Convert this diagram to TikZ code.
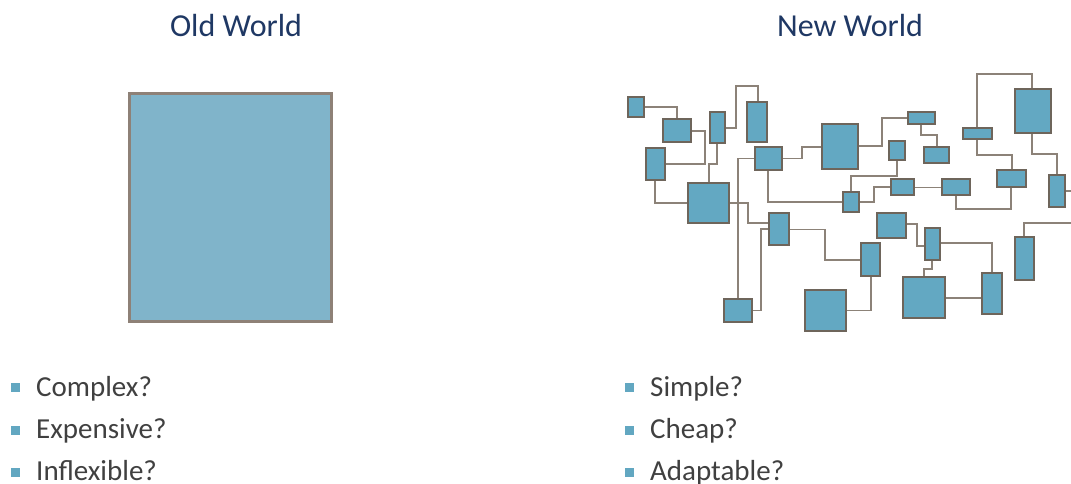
\documentclass[tikz,border=0pt]{standalone}
\usepackage{fontspec}
\setmainfont{Carlito}
\definecolor{boxfill}{HTML}{63A8C2}
\definecolor{boxline}{HTML}{6E655B}
\definecolor{wire}{HTML}{8C8278}
\definecolor{oldfill}{HTML}{80B4CA}
\definecolor{oldline}{HTML}{8E8177}
\definecolor{titlecol}{HTML}{1F3864}
\definecolor{textcol}{HTML}{404040}
\definecolor{bulletcol}{HTML}{62A7C1}
\newcommand\bx[5]{\node[netbox, minimum width={(#4)-(#2)}, minimum height={(#5)-(#3)}] (#1) at ({((#2)+(#4))/2},{((#3)+(#5))/2}) {};}
\tikzset{
  netbox/.style={draw=boxline, fill=boxfill, line width=1.5pt, inner sep=0pt, outer sep=0pt},
  wireline/.style={draw=wire, line width=1.4pt},
  titletext/.style={anchor=base, text=titlecol, font=\fontsize{32}{37}\selectfont, inner sep=0pt},
  itemtext/.style={anchor=base west, text=textcol, font=\fontsize{29}{33}\selectfont, inner sep=0pt},
  bulletsq/.style={fill=bulletcol, minimum width=9pt, minimum height=9pt, inner sep=0pt}
}
\begin{document}
\begin{tikzpicture}[x=1pt,y=-1pt]
\useasboundingbox (0,0) rectangle (1071,483);
% titles
\node[titletext] (t1) at (236,36) {Old World};
\node[titletext] (t2) at (850,36) {New World};
% old world box
\node[draw=oldline, fill=oldfill, line width=3pt, minimum width=202pt, minimum height=228pt, inner sep=0pt] (old) at (230.5,207.5) {};
% bullets left
\node[bulletsq] (b1) at (15.5,387) {};
\node[bulletsq] (b2) at (15.5,430) {};
\node[bulletsq] (b3) at (15.5,472) {};
\node[itemtext] (l1) at (36,396) {Complex?};
\node[itemtext] (l2) at (36,438.5) {Expensive?};
\node[itemtext] (l3) at (36,480) {Inflexible?};
% bullets right
\node[bulletsq] (b4) at (629.5,387) {};
\node[bulletsq] (b5) at (629.5,430) {};
\node[bulletsq] (b6) at (629.5,472) {};
\node[itemtext] (r1) at (650,396) {Simple?};
\node[itemtext] (r2) at (650,438) {Cheap?};
\node[itemtext] (r3) at (650,480) {Adaptable?};
% edge coordinates
\coordinate (edgeS) at (1071,191);
\coordinate (edgeR) at (1071,223);
% wires first (under boxes)
\begin{scope}[wireline]
\draw (628,107) -- (677,107) -- (677,119);
\draw (717,128) -- (736,128) -- (736,86) -- (758,86) -- (758,102);
\draw (691,131) -- (705,131) -- (705,164) -- (665,164);
\draw (655,180) -- (655,203) -- (688,203);
\draw (717,143) -- (717,164) -- (709,164) -- (709,183);
\draw (755,158.5) -- (738,158.5) -- (738,299);
\draw (782,158.5) -- (802,158.5) -- (802,147) -- (822,147);
\draw (768,170) -- (768,202) -- (843,202);
\draw (729,203) -- (748,203) -- (748,223) -- (769,223);
\draw (769,229) -- (761,229) -- (761,310.5) -- (752,310.5);
\draw (789,229.5) -- (825,229.5) -- (825,260) -- (861,260);
\draw (871,276) -- (871,310.5) -- (846,310.5);
\draw (858,146) -- (882,146) -- (882,118) -- (908,118);
\draw (921,124) -- (921,135) -- (937,135) -- (937,147);
\draw (897,160) -- (897,176) -- (851,176) -- (851,192);
\draw (859,202) -- (874,202) -- (874,187) -- (891,187);
\draw (914,187.5) -- (942,187.5);
\draw (956,195) -- (956,209) -- (1011,209) -- (1011,187);
\draw (977,128) -- (977,74) -- (1032,74) -- (1032,89);
\draw (977,139) -- (977,155) -- (1012,155) -- (1012,170);
\draw (1032,133) -- (1032,154) -- (1057,154) -- (1057,175);
\draw (1065,191) -- (edgeS);
\draw (1024,237) -- (1024,223) -- (edgeR);
\draw (906,224) -- (917,224) -- (917,246) -- (925,246);
\draw (932,260) -- (932,269) -- (924,269) -- (924,277);
\draw (945,298) -- (982,298);
\draw (940,243) -- (992,243) -- (992,273);
\end{scope}
% network boxes
\bx{A}{628}{97}{644}{117}
\bx{B}{663}{119}{691}{142}
\bx{C}{710}{112}{725}{143}
\bx{D}{747}{102}{767}{142}
\bx{E}{646}{148}{665}{180}
\bx{F}{688}{183}{729}{223}
\bx{G}{755}{147}{782}{170}
\bx{H}{724}{299}{752}{322}
\bx{I}{822}{124}{858}{169}
\bx{J}{843}{192}{859}{212}
\bx{K}{769}{213}{789}{245}
\bx{L}{861}{243}{880}{276}
\bx{M}{805}{290}{846}{331}
\bx{N}{877}{213}{906}{238}
\bx{O}{925}{228}{940}{260}
\bx{P}{903}{277}{945}{318}
\bx{Q}{982}{273}{1002}{314}
\bx{R}{1015}{237}{1034}{280}
\bx{S}{1049}{175}{1065}{207}
\bx{T}{908}{112}{935}{124}
\bx{U}{924}{147}{949}{163}
\bx{V}{889}{141}{905}{160}
\bx{W}{891}{179}{914}{195}
\bx{X}{942}{179}{970}{195}
\bx{Y}{997}{170}{1026}{187}
\bx{Z}{963}{128}{992}{139}
\bx{AA}{1015}{89}{1051}{133}
\end{tikzpicture}
\end{document}
